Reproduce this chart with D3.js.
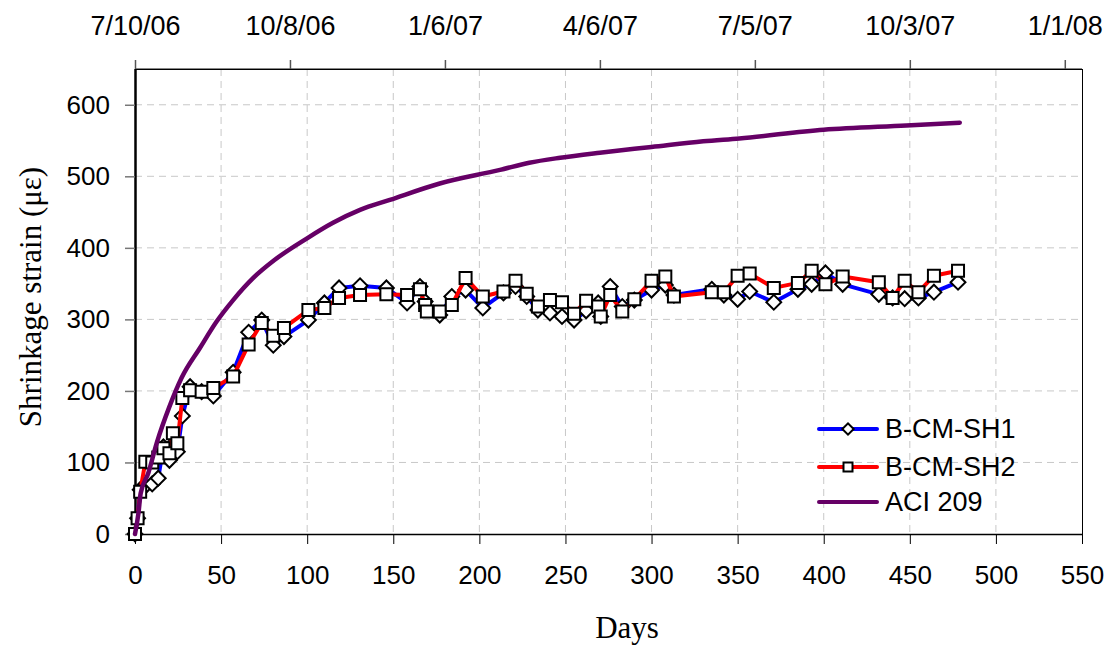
<!DOCTYPE html>
<html><head><meta charset="utf-8">
<script src="https://cdn.jsdelivr.net/npm/d3@7"></script>
<style>
html,body{margin:0;padding:0;background:#fff;}
svg{display:block;}
</style></head>
<body><svg id="c" width="1112" height="646"></svg>
<script>
// ---- data ----
const days = [0,1.5,3,6,10,13.5,16.5,20,22,24.6,27.5,32,38.7,45.5,57,66,73.6,80.3,86.5,100.7,110,118.5,130.7,146,158,165.5,168.5,169.5,177,184,192,202,214,221,227.5,234,241,248,255,262,269,270.5,276,283,290,300,308,313,335,342,350,357,371,385,393,401,411,432,440,447,455,464,478];
const sh1 = [0,22,62,67,70,78,122,103,125,115,165,206,199,193,226,282,299,264,276,299,323,344,347,344,323,346,325,315,306,332,341,316,337,346,332,313,309,304,299,312,323,304,346,318,327,341,348,334,342,334,328,339,324,342,349,365,349,335,330,329,330,338,352];
const sh2 = [0,22,59,101,100,107,120,113,141,127,190,201,199,204,220,265,295,277,288,313,316,330,334,335,334,342,320,311,311,320,358,332,339,354,336,318,327,324,308,326,318,304,334,311,328,354,360,332,338,338,361,364,344,351,368,349,360,352,330,354,338,361,368];
const aciDays = [0,2,3.3,7.7,12.6,20,27,37.7,47.4,57,68.7,81,99.7,115,130.7,148,177,212,229,247,270,300,330,351,400,448,479];
const aciVals = [0,29,57,85,127,178,218,260,297,327,358,383,413,435,453,467,490,509,519,526,533,541,549,553,565,571,575];
const xTicks = [0,50,100,150,200,250,300,350,400,450,500,550];
const yTicks = [0,100,200,300,400,500,600];
const topTickDays = [0,90,180,270,360,450,540];
const topTickLabels = ["7/10/06","10/8/06","1/6/07","4/6/07","7/5/07","10/3/07","1/1/08"];
const seriesNames = ["B-CM-SH1","B-CM-SH2","ACI 209"];

// ---- layout ----
const L=135,R=1082,T=69,B=534;
const x=d3.scaleLinear().domain([0,550]).range([L,R]);
const y=d3.scaleLinear().domain([0,650]).range([B,T]);
const svg=d3.select("#c");
const sans="Arial, 'Liberation Sans', sans-serif";
const serif="'Times New Roman', 'Liberation Serif', serif";

// grid
const grid=svg.append("g").attr("stroke","#c8c8c8").attr("stroke-width",1).attr("stroke-dasharray","7,5");
xTicks.slice(1,-1).forEach(t=>grid.append("line").attr("x1",x(t)).attr("x2",x(t)).attr("y1",T).attr("y2",B));
yTicks.slice(1).forEach(t=>grid.append("line").attr("x1",L).attr("x2",R).attr("y1",y(t)).attr("y2",y(t)));

// frame
svg.append("line").attr("x1",L).attr("x2",R).attr("y1",T-0.5).attr("y2",T-0.5).attr("stroke","#888").attr("stroke-width",1);
svg.append("line").attr("x1",L).attr("x2",R).attr("y1",T+0.5).attr("y2",T+0.5).attr("stroke","#000").attr("stroke-width",1);
svg.append("line").attr("x1",R+0.5).attr("x2",R+0.5).attr("y1",T).attr("y2",B).attr("stroke","#000").attr("stroke-width",1);

// bottom axis
const xb=svg.append("g").attr("transform",`translate(0,${B})`)
  .call(d3.axisBottom(x).tickValues(xTicks).tickSize(10).tickPadding(22).tickSizeOuter(0));
xb.select(".domain").attr("stroke","#000").attr("stroke-width",1.5);
xb.selectAll(".tick line").attr("stroke","#000");
xb.selectAll("text").attr("font-family",sans).attr("font-size",26).attr("fill","#000");

// left axis
const yl=svg.append("g").attr("transform",`translate(${L},0)`)
  .call(d3.axisLeft(y).tickValues(yTicks).tickSize(10).tickPadding(15).tickSizeOuter(0));
yl.select(".domain").attr("stroke","#000").attr("stroke-width",2.5).attr("d",`M0.5,${T}V${B}`);
yl.selectAll(".tick line").attr("stroke","#777").attr("stroke-width",1.5);
yl.selectAll("text").attr("font-family",sans).attr("font-size",26).attr("fill","#000");

// top date axis
const xt=svg.append("g").attr("transform",`translate(0,${T})`)
  .call(d3.axisTop(x).tickValues(topTickDays).tickFormat((d,i)=>topTickLabels[i]).tickSize(9).tickPadding(25).tickSizeOuter(0));
xt.select(".domain").remove();
xt.selectAll(".tick line").attr("stroke","#555").attr("stroke-width",1.5);
xt.selectAll("text").attr("font-family",sans).attr("font-size",27).attr("fill","#000");

// axis titles
svg.append("text").attr("transform","translate(30,297) rotate(-90)").attr("text-anchor","middle")
  .attr("dominant-baseline","central").attr("font-family",serif).attr("font-size",31).text("Shrinkage strain (με)");
svg.append("text").attr("x",627).attr("y",638).attr("text-anchor","middle")
  .attr("font-family",serif).attr("font-size",31).text("Days");

// series
const line=d3.line().x(d=>x(d[0])).y(d=>y(d[1]));
const s1=days.map((d,i)=>[d,sh1[i]]);
const s2=days.map((d,i)=>[d,sh2[i]]);
const aci=aciDays.map((d,i)=>[d,aciVals[i]]);
const diamond=d3.symbol().type(d3.symbolSquare).size(110);
const square=d3.symbol().type(d3.symbolSquare).size(144);

function drawSeries(data,color,kind){
  svg.append("path").datum(data).attr("d",line).attr("fill","none").attr("stroke",color).attr("stroke-width",4).attr("stroke-linejoin","round");
  svg.append("g").selectAll("path").data(data).join("path")
    .attr("d",kind==="d"?diamond:square)
    .attr("transform",d=>`translate(${x(d[0])},${y(d[1])})`+(kind==="d"?" rotate(45)":""))
    .attr("fill","#fff").attr("stroke","#000").attr("stroke-width",2);
}
drawSeries(s1,"#0000ff","d");
drawSeries(s2,"#ff0000","s");
svg.append("path").datum(aci).attr("d",line.curve(d3.curveMonotoneX)).attr("fill","none")
  .attr("stroke","#660066").attr("stroke-width",4.5).attr("stroke-linecap","round");

// legend
const leg=svg.append("g");
const rows=[429,467,502];
const colors=["#0000ff","#ff0000","#660066"];
rows.forEach((ry,i)=>{
  leg.append("line").attr("x1",819).attr("x2",877).attr("y1",ry).attr("y2",ry).attr("stroke",colors[i]).attr("stroke-width",4).attr("stroke-linecap","round");
  if(i===0) leg.append("path").attr("d",d3.symbol().type(d3.symbolSquare).size(64)).attr("transform",`translate(848,${ry}) rotate(45)`).attr("fill","#fff").attr("stroke","#000").attr("stroke-width",2);
  if(i===1) leg.append("path").attr("d",d3.symbol().type(d3.symbolSquare).size(81)).attr("transform",`translate(848,${ry})`).attr("fill","#fff").attr("stroke","#000").attr("stroke-width",2);
  leg.append("text").attr("x",885).attr("y",ry).attr("dominant-baseline","central").attr("font-family",sans).attr("font-size",27).text(seriesNames[i]);
});
</script></body></html>
